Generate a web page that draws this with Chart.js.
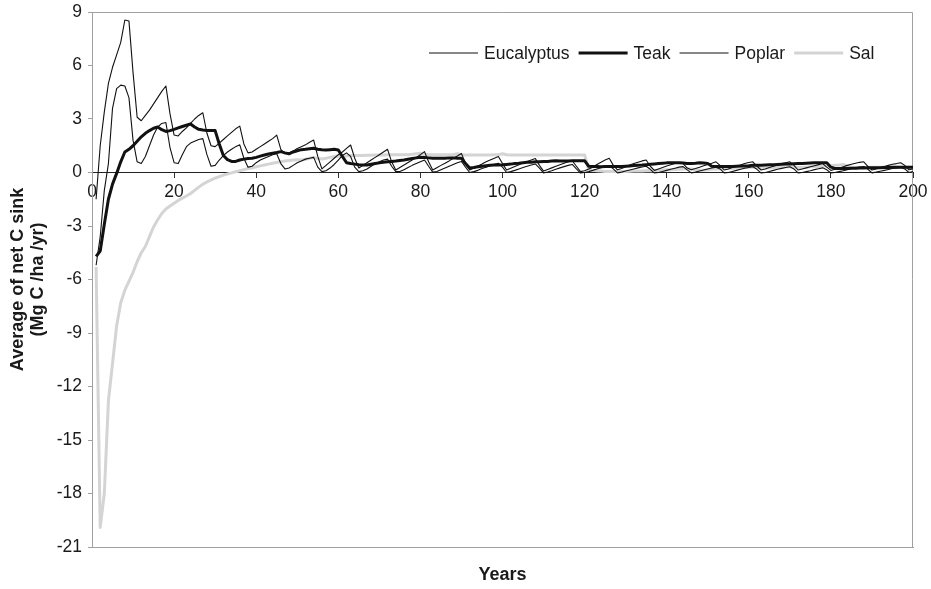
<!DOCTYPE html>
<html>
<head>
<meta charset="utf-8">
<script src="https://cdn.jsdelivr.net/npm/chart.js@4/dist/chart.umd.min.js"></script>
<style>
html,body{margin:0;padding:0;background:#fff;}
canvas{display:block;}
</style>
</head>
<body>
<canvas id="c" width="931" height="589"></canvas>
<script>
// ---------------- data ----------------
const years = [
  1,2,3,4,5,6,7,8,9,10,11,12,13,14,15,16,17,18,19,20,
  21,22,23,24,25,26,27,28,29,30,31,32,33,34,35,36,37,38,39,40,
  41,42,43,44,45,46,47,48,49,50,51,52,53,54,55,56,57,58,59,60,
  61,62,63,64,65,66,67,68,69,70,71,72,73,74,75,76,77,78,79,80,
  81,82,83,84,85,86,87,88,89,90,91,92,93,94,95,96,97,98,99,100,
  101,102,103,104,105,106,107,108,109,110,111,112,113,114,115,116,117,118,119,120,
  121,122,123,124,125,126,127,128,129,130,131,132,133,134,135,136,137,138,139,140,
  141,142,143,144,145,146,147,148,149,150,151,152,153,154,155,156,157,158,159,160,
  161,162,163,164,165,166,167,168,169,170,171,172,173,174,175,176,177,178,179,180,
  181,182,183,184,185,186,187,188,189,190,191,192,193,194,195,196,197,198,199,200
];

const eucalyptus = [
  -1.5,1.5,3.4,5.0,5.9,6.6,7.3,8.55,8.5,5.6,
  3.1,2.9,3.2,3.5,3.85,4.2,4.55,4.85,3.3,2.1,
  2.05,2.3,2.5,2.75,3.0,3.2,3.35,2.2,1.5,1.45,
  1.65,1.85,2.05,2.25,2.45,2.6,1.6,1.1,1.15,1.3,
  1.45,1.6,1.75,1.9,2.1,1.3,1.05,1.1,1.2,1.35,
  1.45,1.55,1.7,1.82,0.9,0.2,0.4,0.6,0.8,1.0,
  1.15,1.35,1.54,0.8,0.25,0.4,0.55,0.7,0.85,1.0,
  1.15,1.3,0.6,0.14,0.28,0.42,0.56,0.7,0.85,1.0,
  1.17,0.6,0.14,0.27,0.4,0.52,0.65,0.8,0.93,1.07,
  0.5,0.14,0.25,0.37,0.48,0.6,0.7,0.8,0.9,0.5,
  0.14,0.24,0.34,0.44,0.54,0.62,0.7,0.78,0.4,0.08,
  0.17,0.26,0.35,0.44,0.52,0.6,0.66,0.35,0.05,0.1,
  0.2,0.3,0.45,0.58,0.7,0.8,0.4,0.15,0.22,0.32,
  0.42,0.5,0.58,0.65,0.7,0.35,0.12,0.2,0.28,0.36,
  0.43,0.5,0.55,0.5,0.25,0.15,0.22,0.3,0.38,0.45,
  0.52,0.6,0.4,0.14,0.2,0.28,0.35,0.42,0.5,0.56,
  0.6,0.35,0.14,0.2,0.28,0.35,0.42,0.5,0.55,0.6,
  0.4,0.14,0.2,0.26,0.32,0.38,0.44,0.5,0.3,0.12,
  0.18,0.25,0.32,0.4,0.46,0.52,0.57,0.6,0.35,0.14,
  0.2,0.27,0.34,0.4,0.46,0.5,0.55,0.4,0.15,0.2
];

const teak = [
  -4.7,-4.4,-2.9,-1.5,-0.65,-0.05,0.6,1.15,1.3,1.5,
  1.75,2.0,2.2,2.35,2.48,2.55,2.4,2.3,2.35,2.42,
  2.5,2.58,2.65,2.72,2.55,2.42,2.38,2.36,2.36,2.35,
  1.6,0.95,0.72,0.62,0.62,0.7,0.75,0.78,0.8,0.85,
  0.92,0.98,1.04,1.08,1.12,1.17,1.1,1.05,1.15,1.22,
  1.28,1.3,1.33,1.36,1.3,1.27,1.26,1.28,1.3,1.26,
  0.9,0.55,0.5,0.47,0.44,0.42,0.42,0.46,0.5,0.54,
  0.57,0.6,0.62,0.64,0.67,0.7,0.74,0.78,0.82,0.85,
  0.84,0.82,0.8,0.8,0.8,0.8,0.82,0.82,0.8,0.8,
  0.5,0.25,0.28,0.32,0.35,0.38,0.4,0.42,0.42,0.43,
  0.45,0.47,0.5,0.52,0.55,0.57,0.58,0.6,0.6,0.61,
  0.62,0.64,0.66,0.65,0.64,0.65,0.66,0.66,0.66,0.66,
  0.35,0.33,0.33,0.32,0.33,0.33,0.34,0.33,0.33,0.35,
  0.37,0.39,0.41,0.42,0.44,0.46,0.48,0.5,0.52,0.54,
  0.55,0.55,0.55,0.53,0.5,0.5,0.52,0.55,0.53,0.5,
  0.35,0.33,0.33,0.33,0.33,0.34,0.35,0.36,0.37,0.38,
  0.4,0.41,0.41,0.42,0.43,0.44,0.45,0.46,0.47,0.48,
  0.49,0.5,0.51,0.52,0.53,0.54,0.55,0.55,0.55,0.3,
  0.23,0.23,0.23,0.23,0.24,0.24,0.25,0.25,0.26,0.26,
  0.27,0.27,0.28,0.28,0.29,0.29,0.3,0.3,0.3,0.3
];

const poplar = [
  -5.2,-3.6,-1.0,0.5,3.6,4.7,4.9,4.85,4.2,1.8,
  0.6,0.5,0.9,1.5,2.1,2.55,2.75,2.8,1.4,0.55,
  0.5,1.0,1.45,1.65,1.75,1.85,1.9,1.0,0.35,0.4,
  0.7,0.95,1.15,1.3,1.45,1.55,0.8,0.3,0.35,0.55,
  0.7,0.8,0.9,1.0,1.05,0.5,0.2,0.25,0.4,0.55,
  0.65,0.75,0.8,0.85,0.3,0.05,0.1,0.25,0.45,0.7,
  0.95,1.1,0.9,0.3,0.05,0.1,0.2,0.35,0.5,0.6,
  0.7,0.75,0.35,0.05,0.05,0.15,0.28,0.4,0.5,0.6,
  0.7,0.35,0.02,0.05,0.15,0.25,0.35,0.45,0.55,0.62,
  0.3,0.0,0.05,0.12,0.22,0.3,0.38,0.46,0.52,0.3,
  0.0,0.05,0.12,0.2,0.28,0.35,0.42,0.48,0.25,-0.02,
  0.03,0.1,0.18,0.26,0.33,0.4,0.45,0.2,-0.03,0.0,
  0.05,0.12,0.2,0.27,0.33,0.38,0.2,-0.02,0.02,0.08,
  0.14,0.2,0.26,0.31,0.35,0.18,-0.03,0.0,0.06,0.12,
  0.18,0.24,0.3,0.33,0.15,-0.02,0.02,0.08,0.14,0.2,
  0.25,0.3,0.2,-0.02,0.0,0.06,0.12,0.18,0.24,0.28,
  0.32,0.18,-0.03,0.0,0.06,0.12,0.18,0.23,0.28,0.32,
  0.2,-0.02,0.0,0.05,0.1,0.16,0.21,0.26,0.15,-0.03,
  0.0,0.05,0.1,0.16,0.22,0.27,0.31,0.34,0.18,-0.02,
  0.02,0.07,0.12,0.17,0.22,0.26,0.3,0.2,0.0,0.05
];

const sal = [
  -5.3,-19.9,-18.0,-12.8,-10.7,-8.6,-7.3,-6.6,-6.1,-5.6,
  -5.0,-4.5,-4.15,-3.6,-3.05,-2.65,-2.3,-2.05,-1.88,-1.72,
  -1.57,-1.44,-1.32,-1.18,-1.0,-0.82,-0.66,-0.53,-0.42,-0.32,
  -0.23,-0.15,-0.08,-0.02,0.04,0.1,0.16,0.22,0.27,0.32,
  0.37,0.42,0.47,0.52,0.56,0.6,0.64,0.67,0.7,0.72,
  0.7,0.74,0.8,0.85,0.78,0.76,0.8,0.85,0.9,0.92,
  0.9,0.92,0.95,0.95,0.96,0.96,0.97,0.97,0.98,0.98,
  0.98,0.99,0.99,1.0,1.0,1.0,1.0,1.02,1.05,1.08,
  1.02,1.0,1.0,1.0,1.0,1.0,1.0,1.0,1.05,1.0,
  0.98,0.98,0.98,0.98,0.98,0.98,0.98,1.0,1.0,1.05,
  1.0,0.98,0.98,0.98,0.98,0.98,0.98,0.98,0.98,0.98,
  0.98,0.98,0.98,0.98,0.98,0.98,0.98,0.98,0.98,0.98,
  0.15,0.12,0.1,0.08,0.06,0.05,0.05,0.05,0.05,0.06,
  0.07,0.08,0.08,0.08,0.1,0.1,0.1,0.12,0.14,0.15,
  0.16,0.17,0.18,0.2,0.2,0.2,0.15,0.12,0.12,0.15,
  0.18,0.2,0.2,0.22,0.22,0.22,0.25,0.25,0.28,0.3,
  0.3,0.28,0.25,0.25,0.25,0.28,0.3,0.3,0.32,0.32,
  0.3,0.28,0.28,0.3,0.32,0.33,0.34,0.35,0.36,0.38,
  0.4,0.42,0.45,0.35,0.3,0.28,0.28,0.28,0.3,0.3,
  0.3,0.3,0.3,0.3,0.3,0.3,0.3,0.3,0.3,0.3
];

const seriesNames = ['Eucalyptus', 'Teak', 'Poplar', 'Sal'];
const yTicksMin = -21, yTicksMax = 9, yTickStep = 3;
const xTicksMin = 0, xTicksMax = 200, xTickStep = 20;
const yTitle = ['Average of net C sink', '(Mg C /ha /yr)'];
const xTitle = 'Years';

// ---------------- chart ----------------
const FONT = '"Liberation Sans", Arial, Helvetica, sans-serif';
const TEXT = '#1a1a1a';
const FRAME = '#a0a0a0';

const toPoints = vals => years.map((yr, i) => ({x: yr, y: vals[i]}));

const framePlugin = {
  id: 'frame',
  beforeDatasetsDraw(chart) {
    const {ctx, chartArea: a} = chart;
    ctx.save();
    ctx.strokeStyle = FRAME;
    ctx.lineWidth = 1;
    ctx.beginPath();
    ctx.moveTo(a.left, Math.round(a.top) + 0.5);
    ctx.lineTo(Math.round(a.right) - 0.5, Math.round(a.top) + 0.5);
    ctx.lineTo(Math.round(a.right) - 0.5, a.bottom);
    ctx.stroke();
    ctx.restore();
  }
};

const legendPlugin = {
  id: 'inlegend',
  afterDatasetsDraw(chart, args, opts) {
    const ctx = chart.ctx;
    ctx.save();
    ctx.font = '17.5px ' + FONT;
    ctx.textBaseline = 'middle';
    ctx.textAlign = 'left';
    let x = opts.x;
    const y = opts.y;
    chart.data.datasets.forEach(ds => {
      ctx.strokeStyle = ds.borderColor;
      ctx.lineWidth = ds.borderWidth;
      ctx.beginPath();
      ctx.moveTo(x, y);
      ctx.lineTo(x + opts.lineLen, y);
      ctx.stroke();
      x += opts.lineLen + opts.gap;
      ctx.fillStyle = TEXT;
      ctx.fillText(ds.label, x, y + 1);
      x += ctx.measureText(ds.label).width + opts.itemGap;
    });
    ctx.restore();
  }
};

new Chart(document.getElementById('c'), {
  type: 'line',
  data: {
    datasets: [
      {label: seriesNames[0], data: toPoints(eucalyptus), borderColor: '#111111', borderWidth: 1.1, order: 2},
      {label: seriesNames[1], data: toPoints(teak), borderColor: '#111111', borderWidth: 3, order: 1},
      {label: seriesNames[2], data: toPoints(poplar), borderColor: '#111111', borderWidth: 1.1, order: 3},
      {label: seriesNames[3], data: toPoints(sal), borderColor: '#d4d4d4', borderWidth: 3, order: 4}
    ]
  },
  options: {
    responsive: false,
    animation: false,
    devicePixelRatio: 1,
    layout: {padding: {top: 12, right: 18, left: 0, bottom: 0}},
    elements: {
      point: {radius: 0},
      line: {tension: 0, fill: false, borderJoinStyle: 'round'}
    },
    plugins: {
      legend: {display: false},
      tooltip: {enabled: false},
      inlegend: {x: 429, y: 53, lineLen: 49, gap: 6, itemGap: 9}
    },
    scales: {
      x: {
        type: 'linear', position: 'bottom', min: xTicksMin, max: xTicksMax,
        afterFit(s) { s.height = 42; s.paddingLeft = 0; s.paddingRight = 0; },
        ticks: {display: false},
        grid: {display: false},
        border: {display: true, color: FRAME, width: 1},
        title: {display: true, text: xTitle, color: TEXT,
          font: {family: FONT, size: 18, weight: 'bold'}, padding: {top: 0, bottom: 3}}
      },
      x0: {
        type: 'linear', axis: 'x', position: {y: 0}, min: xTicksMin, max: xTicksMax,
        afterFit(s) { s.paddingLeft = 0; s.paddingRight = 0; },
        ticks: {stepSize: xTickStep, color: TEXT, font: {family: FONT, size: 17.5},
          padding: 4, maxRotation: 0, autoSkip: false},
        grid: {drawOnChartArea: false, drawTicks: true, tickLength: 5, color: '#333'},
        border: {display: true, color: '#222', width: 1}
      },
      y: {
        type: 'linear', position: 'left', min: yTicksMin, max: yTicksMax,
        afterFit(s) { s.width = 92; s.paddingTop = 0; s.paddingBottom = 0; },
        ticks: {stepSize: yTickStep, color: TEXT, font: {family: FONT, size: 17.5}, padding: 6},
        grid: {drawOnChartArea: false, drawTicks: true, tickLength: 4, color: FRAME},
        border: {display: true, color: FRAME, width: 1},
        title: {display: true, text: yTitle, color: TEXT,
          font: {family: FONT, size: 18, weight: 'bold', lineHeight: 1.1}, padding: {top: 8, bottom: 0}}
      }
    }
  },
  plugins: [framePlugin, legendPlugin]
});
</script>
</body>
</html>
